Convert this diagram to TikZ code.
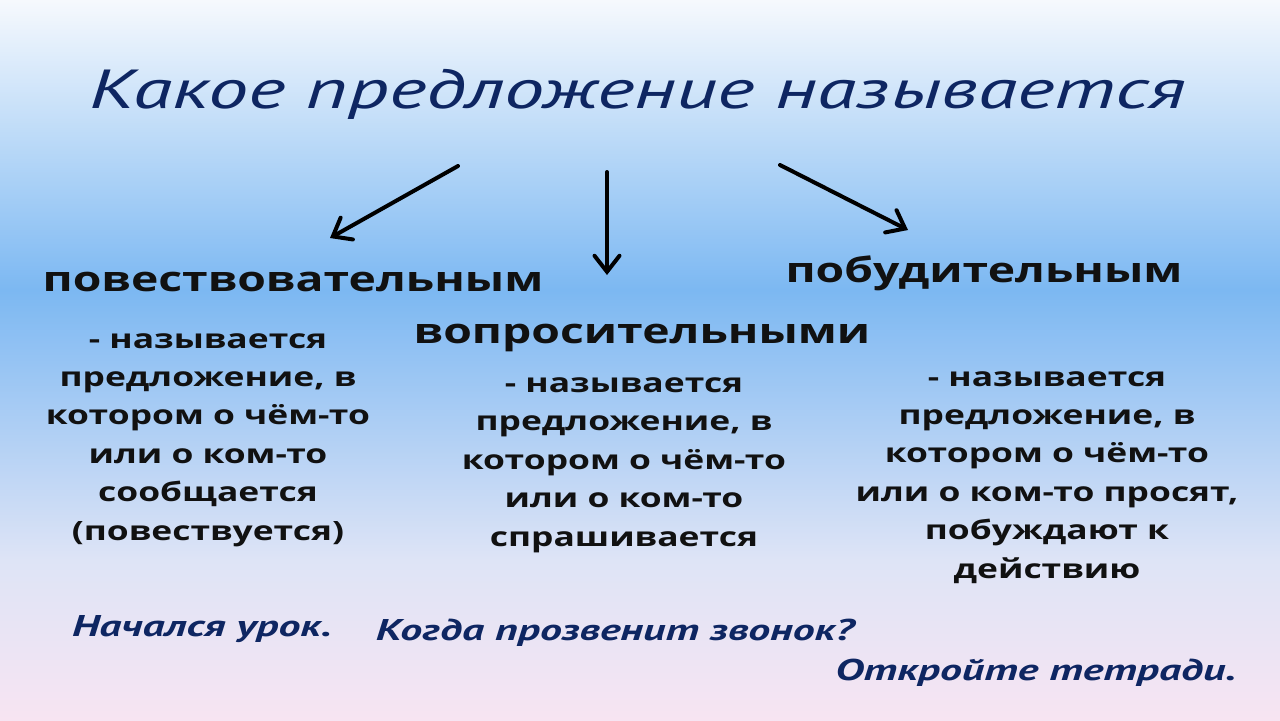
\documentclass[tikz,border=0pt]{standalone}
\usepackage{fontspec}
\setmainfont{Open Sans}[FakeStretch=1.33]
\newfontfamily\cursivefont{PT Sans}[FakeStretch=1.46]
\usetikzlibrary{arrows.meta}

\begin{document}
\begin{tikzpicture}[x=0.5pt, y=-0.5pt,
    titletext/.style={anchor=base, inner sep=0pt, text=titlecolor, font=\cursivefont\itshape\fontsize{27.5}{32}\selectfont},
    kindtext/.style={anchor=base, inner sep=0pt, text=textcolor, font=\bfseries\fontsize{17.4}{20}\selectfont},
    deftext/.style={anchor=base, inner sep=0pt, align=center, text=textcolor, font=\bfseries\fontsize{13.3}{19.2}\selectfont},
    exampletext/.style={anchor=base, inner sep=0pt, text=titlecolor, font=\cursivefont\bfseries\itshape\fontsize{15}{17}\selectfont},
    pointer/.style={line width=2pt, line cap=round, -{Straight Barb[length=8pt, width=12.5pt, line cap=round]}}]
    % Define colors
    \definecolor{bgtop}{RGB}{246, 249, 253}
    \definecolor{bgblue}{RGB}{124, 184, 242}
    \definecolor{bglilac}{RGB}{222, 228, 246}
    \definecolor{bgpink}{RGB}{247, 228, 242}
    \definecolor{titlecolor}{RGB}{14, 38, 98}
    \definecolor{textcolor}{RGB}{17, 17, 17}

    % Background gradient
    \useasboundingbox (0,0) rectangle (1280,720);
    \shade[top color=bgtop, bottom color=bgblue] (0,0) rectangle (1280,290);
    \shade[top color=bgblue, bottom color=bglilac] (0,290) rectangle (1280,560);
    \shade[top color=bglilac, bottom color=bgpink] (0,560) rectangle (1280,720);

    % Title
    \node[titletext] (question) at (638,108) {Какое предложение называется};

    % Three kinds
    \node[kindtext] (narrative) at (293,291) {повествовательным};
    \node[kindtext] (interrog) at (642,343) {вопросительными};
    \node[kindtext] (imperative) at (984,282) {побудительным};

    % Arrow ends
    \coordinate (fromL) at (458,166);
    \coordinate (toL) at (330,238);
    \coordinate (fromM) at (607,172);
    \coordinate (toM) at (607,275);
    \coordinate (fromR) at (780,165);
    \coordinate (toR) at (908,230);

    % Arrows
    \draw[pointer] (fromL) -- (toL);
    \draw[pointer] (fromM) -- (toM);
    \draw[pointer] (fromR) -- (toR);

    % Definitions (base = last line)
    \node[deftext] (narrdef) at (208,540) {- называется\\предложение, в\\котором о чём-то\\или о ком-то\\сообщается\\(повествуется)};
    \node[deftext] (interdef) at (624,546) {- называется\\предложение, в\\котором о чём-то\\или о ком-то\\спрашивается};
    \node[deftext] (impdef) at (1047,578) {- называется\\предложение, в\\котором о чём-то\\или о ком-то просят,\\побуждают к\\действию};

    % Examples
    \node[exampletext] (narrex) at (202,636) {Начался урок.};
    \node[exampletext] (interex) at (615,640) {Когда прозвенит звонок?};
    \node[exampletext] (impex) at (1036,680) {Откройте тетради.};

\end{tikzpicture}
\end{document}
